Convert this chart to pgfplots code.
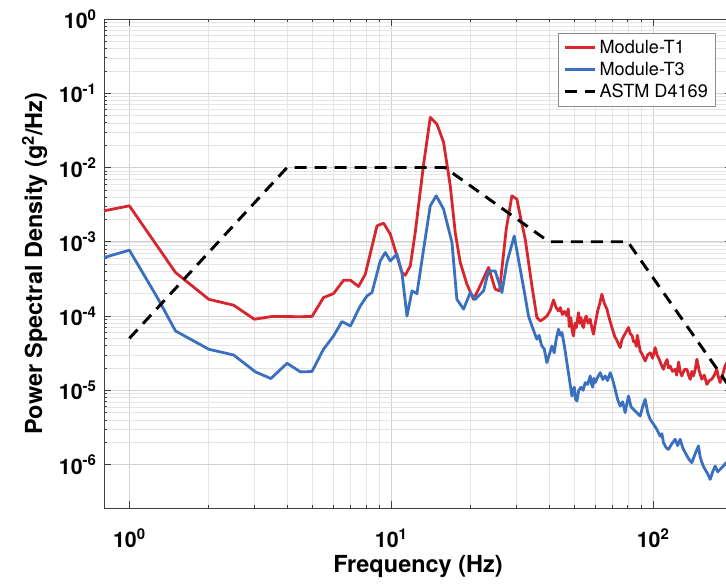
\documentclass[border=0pt]{standalone}
\usepackage{pgfplots}
\pgfplotsset{compat=1.18}
\usepackage{fontspec}
\setmainfont{TeX Gyre Heros}

\definecolor{tone}{RGB}{216,38,46}
\definecolor{tthree}{RGB}{58,112,192}
\newcommand{\tl}[1]{\textbf{10\textsuperscript{#1}}}

\begin{document}
\begin{tikzpicture}
\begin{axis}[
  xmode=log, ymode=log,
  scale only axis, width=471pt, height=366.75pt,
  xmin=0.8, xmax=200, ymin=2.6e-7, ymax=1,
  xtick={1,10,100}, xticklabels={\tl{0},\tl{1},\tl{2}},
  ytick={1e-6,1e-5,1e-4,1e-3,1e-2,1e-1,1},
  yticklabels={\tl{-6},\tl{-5},\tl{-4},\tl{-3},\tl{-2},\tl{-1},\tl{0}},
  ticklabel style={font=\fontsize{16}{19}\selectfont},
  xticklabel style={yshift=-12pt},
  yticklabel style={xshift=-2pt},
  grid=both,
  major grid style={black!18, line width=0.5pt},
  minor grid style={black!10, line width=0.4pt},
  tick align=inside, major tick length=5pt, minor tick length=2.5pt,
  axis line style={black!75, line width=0.6pt},
  tick style={black!75, line width=0.5pt},
  xlabel={Frequency (Hz)},
  ylabel={Power Spectral Density (g\textsuperscript{2}/Hz)},
  xlabel style={font=\fontsize{17.6}{21}\selectfont\bfseries,
                at={(axis description cs:0.5,-0.12)}, anchor=center},
  ylabel style={font=\fontsize{17.6}{21}\selectfont\bfseries,
                at={(axis description cs:-0.1104,0.5)}, anchor=center},
  legend style={at={(rel axis cs:0.975,0.971)}, anchor=north east,
                draw=black!45, fill=white, line width=0.6pt,
                font=\fontsize{13.6}{16}\selectfont,
                row sep=1pt, inner xsep=4pt, inner ysep=3pt,
                cells={anchor=west}},
  legend image code/.code={\draw[#1] plot coordinates {(0cm,0cm) (0.4cm,0cm) (0.8cm,0cm)};},
]

% Module-T1 response spectrum
\addplot[tone, line width=2.1pt, line join=round] coordinates {
(0.80,2.61e-3) (1.00,3.05e-3) (1.50,3.86e-4) (2.01,1.68e-4) (2.50,1.40e-4)
(3.00,9.06e-5) (3.50,9.85e-5) (4.50,9.80e-5) (4.98,9.85e-5) (5.51,1.77e-4)
(6.02,2.01e-4) (6.58,3.04e-4) (6.98,3.04e-4) (7.50,2.50e-4) (7.96,3.66e-4)
(8.82,1.64e-3) (9.35,1.78e-3) (9.91,1.27e-3) (10.51,6.46e-4) (10.98,3.86e-4)
(11.31,3.55e-4) (11.82,4.73e-4) (12.35,1.35e-3) (13.29,1.11e-2) (14.09,4.73e-2)
(14.94,3.85e-2) (15.84,2.18e-2) (16.80,5.67e-3) (17.55,1.33e-3) (18.34,5.26e-4)
(19.45,2.68e-4) (20.61,1.68e-4) (21.54,2.30e-4) (23.52,4.51e-4) (24.94,2.30e-4)
(25.90,2.18e-4) (27.48,1.48e-3) (28.88,4.16e-3) (30.18,3.75e-3) (31.26,2.02e-3)
(32.48,1.08e-3) (34.44,2.55e-4) (35.98,9.55e-5) (37.04,8.59e-5) (38.2,9.2e-5)
(39.29,1.00e-4) (40.5,1.2e-4) (41.65,1.65e-4) (42.6,1.3e-4) (43.50,1.17e-4)
(44.2,1.3e-4) (45.0,1.05e-4) (45.9,1.15e-4) (46.84,1.00e-4) (47.4,1.25e-4)
(47.8,7.2e-5) (48.5,9.5e-5) (49.0,6.5e-5) (49.63,5.39e-5) (50.3,8.0e-5)
(50.9,7.0e-5) (51.87,1.11e-4) (52.4,8.0e-5) (53.0,9.5e-5) (53.6,7.5e-5)
(54.20,7.00e-5) (54.8,9.0e-5) (55.5,1.0e-4) (56.4,8.0e-5) (57.49,9.06e-5)
(58.3,7.0e-5) (59.17,5.69e-5) (60.3,8.5e-5) (61.5,1.2e-4) (62.6,1.5e-4)
(63.72,1.97e-4) (65.0,1.5e-4) (66.59,1.24e-4) (67.6,1.0e-4) (68.5,8.5e-5)
(69.6,7.0e-5) (70.55,6.00e-5) (71.5,5.2e-5) (72.5,4.8e-5) (73.7,4.2e-5)
(74.82,3.76e-5) (76.0,4.8e-5) (77.5,5.5e-5) (79.0,6.2e-5) (80.49,7.00e-5)
(81.7,5.8e-5) (83.0,5.5e-5) (84.2,4.5e-5) (85.37,4.62e-5) (86.2,3.9e-5)
(87.0,5.5e-5) (88.2,4.2e-5) (89.21,3.39e-5) (91.0,3.0e-5) (93.21,2.48e-5)
(95.3,3.0e-5) (97.5,3.2e-5) (99.5,2.7e-5) (101.8,3.76e-5) (103.5,3.0e-5)
(105.5,2.6e-5) (107.5,2.2e-5) (109.5,1.92e-5) (111.2,2.3e-5) (113.0,2.6e-5)
(114.5,2.0e-5) (116.1,2.13e-5) (118.5,1.8e-5) (121.3,1.92e-5) (123.0,1.6e-5)
(125.0,2.4e-5) (126.8,1.8e-5) (128.7,1.56e-5) (131.5,1.9e-5) (134.5,1.92e-5)
(136.5,1.6e-5) (138.5,1.4e-5) (140.5,1.8e-5) (142.5,1.56e-5) (144.7,1.9e-5)
(146.9,2.62e-5) (150.0,1.8e-5) (153.4,1.41e-5) (156.8,1.6e-5) (160.3,1.20e-5)
(163.8,1.35e-5) (167.5,1.41e-5) (171.2,1.6e-5) (175.0,1.92e-5) (177.6,1.5e-5)
(180.2,1.27e-5) (184.0,1.6e-5) (188.3,2.13e-5) (194,2.6e-5) (200,3.06e-5)
};
\addlegendentry{Module-T1}

% Module-T3 response spectrum
\addplot[tthree, line width=2.1pt, line join=round] coordinates {
(0.80,6.14e-4) (1.00,7.70e-4) (1.29,1.68e-4) (1.50,6.30e-5) (2.01,3.57e-5)
(2.50,2.99e-5) (3.03,1.77e-5) (3.47,1.44e-5) (4.00,2.31e-5) (4.50,1.77e-5)
(4.98,1.79e-5) (5.51,3.57e-5) (6.02,5.39e-5) (6.48,8.43e-5) (6.98,7.36e-5)
(7.62,1.37e-4) (8.08,1.87e-4) (8.44,2.07e-4) (9.08,5.53e-4) (9.49,7.18e-4)
(9.91,5.53e-4) (10.51,6.81e-4) (10.98,3.86e-4) (11.48,1.00e-4) (12.00,2.18e-4)
(12.53,2.00e-4) (13.29,7.95e-4) (14.09,3.05e-3) (14.85,4.16e-3) (15.84,2.75e-3)
(17.05,9.79e-4) (17.81,1.68e-4) (18.88,1.24e-4) (20.03,2.07e-4) (20.92,1.68e-4)
(22.51,2.18e-4) (23.52,4.05e-4) (24.94,4.05e-4) (26.46,2.07e-4) (27.65,5.26e-4)
(29.48,1.20e-3) (31.08,4.27e-4) (32.26,2.07e-4) (33.42,1.00e-4) (34.44,7.36e-5)
(35.98,4.87e-5) (36.7,5.5e-5) (37.5,4.0e-5) (38.4,3.6e-5) (39.29,2.36e-5)
(40.1,3.0e-5) (41.06,3.95e-5) (41.9,3.2e-5) (42.7,5.0e-5) (43.50,6.64e-5)
(44.2,5.5e-5) (44.83,6.00e-5) (45.8,4.0e-5) (46.84,2.36e-5) (47.9,1.4e-5)
(48.96,8.38e-6) (49.5,1.0e-5) (50.0,1.1e-5) (50.6,7.5e-6) (51.15,7.18e-6)
(52.0,1.0e-5) (53.0,1.1e-5) (54.0,1.0e-5) (55.03,1.27e-5) (56.2,1.2e-5)
(57.49,1.56e-5) (58.2,1.2e-5) (58.8,1.1e-5) (59.4,1.45e-5) (60.07,1.27e-5)
(61.4,1.5e-5) (62.78,1.73e-5) (64.2,1.4e-5) (65.60,1.56e-5) (67.0,1.35e-5)
(68.55,1.73e-5) (70.0,1.4e-5) (71.61,1.03e-5) (73.2,7.5e-6) (74.82,6.14e-6)
(76.5,7.0e-6) (78.18,5.00e-6) (79.3,6.5e-6) (80.49,8.38e-6) (82.3,6.0e-6)
(84.11,5.55e-6) (86.6,5.0e-6) (89.21,4.51e-6) (91.2,6.0e-6) (93.21,7.57e-6)
(95.3,5.0e-6) (97.39,4.07e-6) (100.3,3.5e-6) (103.3,2.98e-6) (106.5,2.4e-6)
(108.0,2.6e-6) (109.5,1.97e-6) (112.0,1.7e-6) (114.4,1.60e-6) (117.8,1.9e-6)
(121.3,2.19e-6) (124.0,1.8e-6) (126.8,2.19e-6) (129.6,1.7e-6) (132.5,1.45e-6)
(136.5,1.2e-6) (140.5,1.06e-6) (144.7,1.4e-6) (148.9,1.78e-6) (151.0,1.3e-6)
(153.0,1.1e-6) (155.5,9.5e-7) (157.9,8.61e-7) (161.5,7.5e-7) (165.1,6.32e-7)
(168.8,8.0e-7) (172.5,9.54e-7) (176.3,8.0e-7) (180.2,8.61e-7) (185.0,9.5e-7)
(190,1.06e-6) (195,8.5e-7) (200,9.0e-7)
};
\addlegendentry{Module-T3}

% ASTM D4169 truck vibration profile
\addplot[black, line width=2.2pt, dash pattern=on 9pt off 6pt] coordinates {
(1,5e-5) (4,1e-2) (16,1e-2) (40,1e-3) (80,1e-3) (200,1e-5)
};
\addlegendentry{ASTM D4169}

\coordinate (sw) at (rel axis cs:0,0);
\end{axis}
\pgfresetboundingbox
\useasboundingbox ([shift={(-78pt,-57.75pt)}]sw) rectangle ([shift={(466.5pt,381pt)}]sw);
\end{tikzpicture}
\end{document}
